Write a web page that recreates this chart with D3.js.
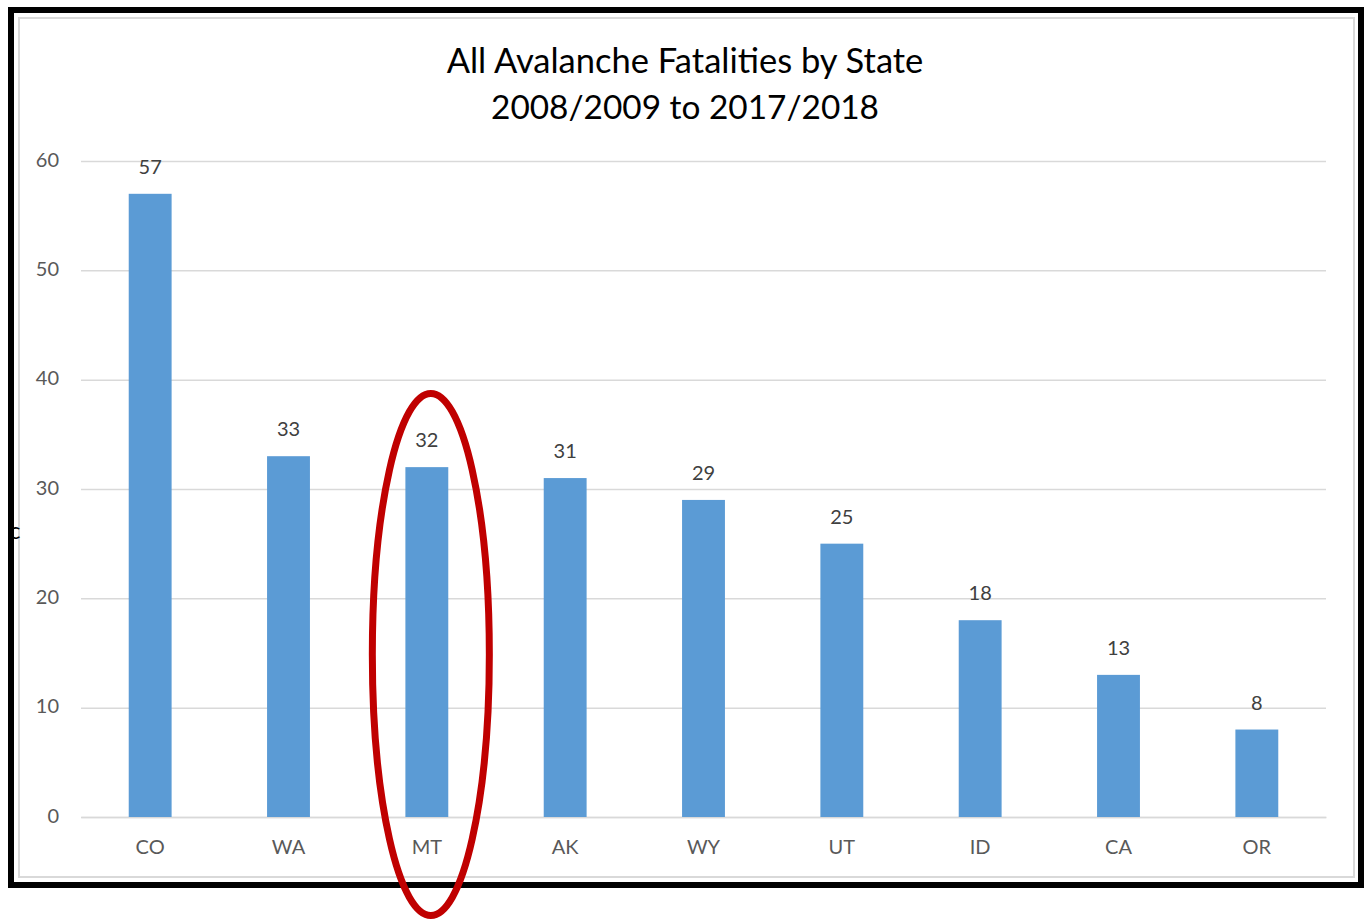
<!DOCTYPE html>
<html><head><meta charset="utf-8">
<script src="https://cdn.jsdelivr.net/npm/d3@7"></script>
<style>html,body{margin:0;padding:0;background:#fff;}svg{display:block;}</style>
</head><body>
<script>
const categories = ["CO","WA","MT","AK","WY","UT","ID","CA","OR"];
const values = [57,33,32,31,29,25,18,13,8];
const yTicks = [0,10,20,30,40,50,60];
const titleLines = ["All Avalanche Fatalities by State","2008/2009 to 2017/2018"];
const highlight = "MT";

(function () {
const W = 1370, H = 922;
const svg = d3.select("body").append("svg").attr("width", W).attr("height", H);
svg.append("rect").attr("width", W).attr("height", H).attr("fill", "#fff");

// frames
svg.append("rect").attr("x", 11).attr("y", 10).attr("width", 1350).attr("height", 875)
  .attr("fill", "none").attr("stroke", "#000").attr("stroke-width", 6);
svg.append("rect").attr("x", 19).attr("y", 18).attr("width", 1335).attr("height", 859)
  .attr("fill", "none").attr("stroke", "#d9d9d9").attr("stroke-width", 2);

const font = "Lato, 'Open Sans', sans-serif";
const pl = 81, pr = 1326, pt = 161, pb = 817;
const x = d3.scaleBand().domain(categories).range([pl, pr]).paddingInner(0.69).paddingOuter(0.345);
const y = d3.scaleLinear().domain([0, 60]).range([pb, pt]);

// gridlines
const yAxis = d3.axisLeft(y).tickValues(yTicks).tickSize(-(pr - pl)).tickPadding(22);
const gy = svg.append("g").attr("transform", `translate(${pl},0)`).call(yAxis);
gy.select(".domain").remove();
gy.selectAll(".tick line").attr("stroke", "#d9d9d9").attr("stroke-width", 1.5);
gy.selectAll(".tick text").attr("fill", "#595959").attr("font-family", font).attr("font-size", 20)
  .attr("dy", "0.25em");

// x axis
const xAxis = d3.axisBottom(x).tickSize(0).tickPadding(23);
const gx = svg.append("g").attr("transform", `translate(0,${pb})`).call(xAxis);
gx.select(".domain").attr("stroke", "#d9d9d9").attr("stroke-width", 1.5);
gx.selectAll(".tick text").attr("fill", "#595959").attr("font-family", font).attr("font-size", 20);

// bars
svg.append("g").selectAll("rect").data(categories).join("rect")
  .attr("x", d => x(d)).attr("width", x.bandwidth())
  .attr("y", (d, i) => y(values[i])).attr("height", (d, i) => y(0) - y(values[i]))
  .attr("fill", "#5b9bd5");

// data labels
svg.append("g").selectAll("text").data(categories).join("text")
  .attr("x", d => x(d) + x.bandwidth() / 2)
  .attr("y", (d, i) => y(values[i]) - 20)
  .attr("text-anchor", "middle").attr("fill", "#404040")
  .attr("font-family", font).attr("font-size", 20)
  .text((d, i) => values[i]);

// title
svg.append("g").selectAll("text").data(titleLines).join("text")
  .attr("x", 685).attr("y", (d, i) => 73 + i * 45.5)
  .attr("text-anchor", "middle").attr("fill", "#000")
  .attr("font-family", font).attr("font-size", (d, i) => i === 0 ? 34.5 : 33.4)
  .text(d => d);

// stray glyph on left edge
svg.append("text").attr("x", 9).attr("y", 539).attr("font-family", font)
  .attr("font-size", 24).attr("fill", "#000").text("c");

// red ellipse highlight
svg.append("ellipse")
  .attr("cx", x(highlight) + x.bandwidth() / 2 + 4).attr("cy", 654.5)
  .attr("rx", 58.5).attr("ry", 261)
  .attr("fill", "none").attr("stroke", "#c00000").attr("stroke-width", 7);
})();
</script>
</body></html>
